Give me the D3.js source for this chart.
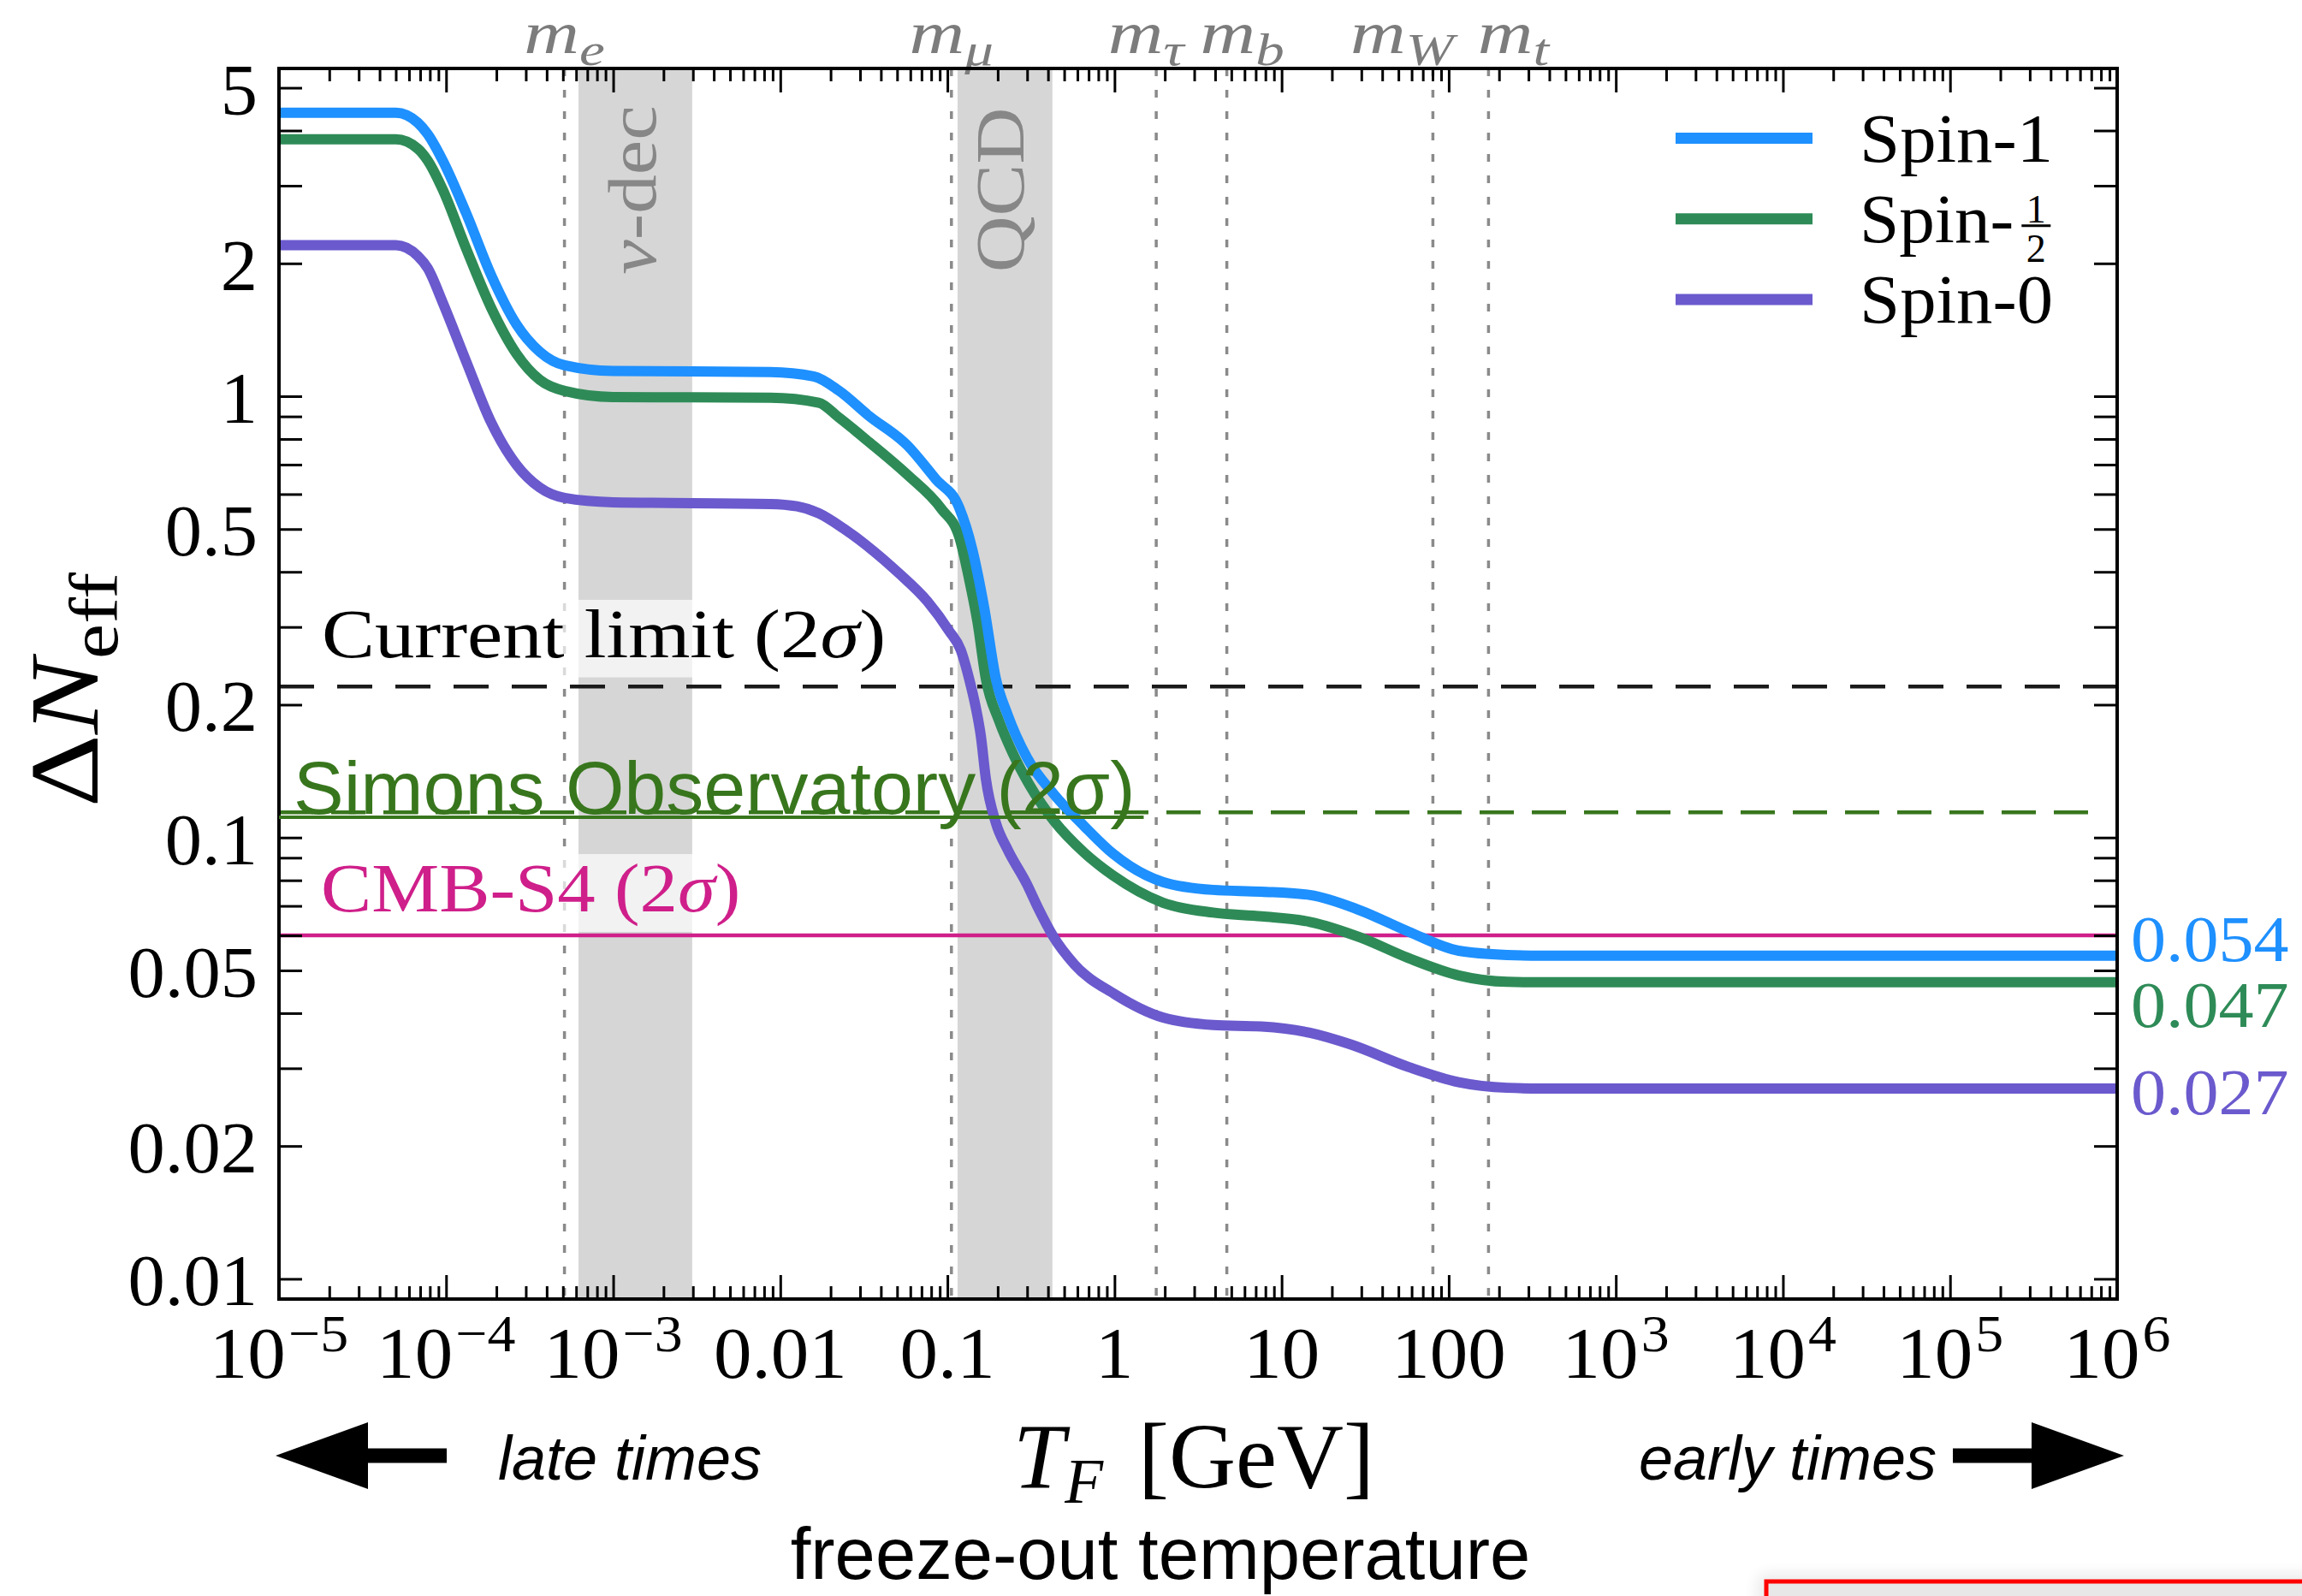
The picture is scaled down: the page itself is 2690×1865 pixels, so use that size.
<!DOCTYPE html>
<html>
<head>
<meta charset="utf-8">
<script src="https://cdn.jsdelivr.net/npm/d3@7"></script>
<style>
  html, body { margin: 0; padding: 0; background: #ffffff; }
  svg { display: block; }
</style>
</head>
<body>
<svg id="chart" width="2690" height="1865"></svg>
<script>
// ---------------- data ----------------
// Freeze-out temperature T_F as log10(T/GeV), and ΔN_eff for each species
const spin1LogT = [-5.0, -4.30, -4.17, -4.11, -4.02, -3.88, -3.73, -3.58, -3.44, -3.29, -3.00, -2.06, -1.80, -1.65, -1.47, -1.24, -1.07, -0.93, -0.85, -0.78, -0.71, -0.64, -0.525, -0.36, -0.18, -0.01, 0.29, 0.59, 0.88, 1.17, 1.47, 1.76, 2.06, 2.35, 2.55, 6.0];
const spin1Val  = [4.39, 4.39, 4.17, 3.925, 3.42, 2.60, 1.88, 1.457, 1.262, 1.175, 1.141, 1.135, 1.109, 1.03, 0.903, 0.774, 0.649, 0.560, 0.448, 0.332, 0.229, 0.190, 0.152, 0.125, 0.106, 0.092, 0.0793, 0.0761, 0.0754, 0.0741, 0.0684, 0.0612, 0.0554, 0.0542, 0.054, 0.054];

const spinHalfLogT = [-5.0, -4.30, -4.17, -4.11, -4.02, -3.88, -3.73, -3.58, -3.44, -3.29, -3.00, -2.06, -1.77, -1.65, -1.47, -1.24, -1.035, -0.93, -0.87, -0.82, -0.77, -0.69, -0.61, -0.51, -0.36, -0.18, -0.01, 0.29, 0.59, 0.88, 1.17, 1.47, 1.76, 2.06, 2.35, 2.55, 6.0];
const spinHalfVal  = [3.82, 3.82, 3.64, 3.42, 2.94, 2.16, 1.585, 1.25, 1.09, 1.028, 0.996, 0.992, 0.967, 0.895, 0.788, 0.664, 0.555, 0.481, 0.385, 0.308, 0.229, 0.1835, 0.1556, 0.1318, 0.1088, 0.0923, 0.0821, 0.0712, 0.0676, 0.0663, 0.0644, 0.0594, 0.0533, 0.0487, 0.0471, 0.047, 0.047];

const spin0LogT = [-5.0, -4.30, -4.17, -4.11, -4.02, -3.88, -3.73, -3.58, -3.44, -3.29, -3.00, -2.06, -1.90, -1.77, -1.62, -1.29, -1.12, -0.99, -0.92, -0.87, -0.83, -0.80, -0.77, -0.71, -0.64, -0.525, -0.46, -0.37, -0.24, 0.0, 0.29, 0.59, 0.88, 1.17, 1.41, 1.76, 2.06, 2.35, 2.55, 6.0];
const spin0Val  = [2.20, 2.20, 2.08, 1.95, 1.63, 1.20, 0.872, 0.700, 0.621, 0.588, 0.575, 0.570, 0.563, 0.543, 0.501, 0.397, 0.343, 0.294, 0.266, 0.229, 0.197, 0.170, 0.136, 0.108, 0.094, 0.0785, 0.0696, 0.060, 0.0516, 0.0442, 0.0391, 0.0376, 0.0373, 0.0361, 0.0340, 0.0302, 0.0279, 0.0271, 0.027, 0.027];

const seriesNames  = ["Spin-1", "Spin-½", "Spin-0"];
const seriesColors = ["#1e90ff", "#2e8b57", "#6a5acd"];
const endValues    = [0.054, 0.047, 0.027];
const endLabels    = ["0.054", "0.047", "0.027"];

// Experimental sensitivities (ΔN_eff at 2σ)
const currentLimit = 0.22;
const simonsLimit  = 0.114;
const cmbS4Limit   = 0.06;

// Particle mass thresholds [GeV]
const massNames  = ["e", "μ", "τ", "b", "W", "t"];
const massValues = [5.11e-4, 0.1057, 1.777, 4.7, 80.4, 173];

// Shaded epochs [GeV]
const bandNames  = ["ν-dec", "QCD"];
const bandLo     = [6.2e-4, 0.115];
const bandHi     = [2.97e-3, 0.425];

// Axis ticks
const yTickValues = [0.01, 0.02, 0.05, 0.1, 0.2, 0.5, 1, 2, 5];
const yTickLabels = ["0.01", "0.02", "0.05", "0.1", "0.2", "0.5", "1", "2", "5"];
const xTickValues = [1e-5, 1e-4, 1e-3, 1e-2, 1e-1, 1, 10, 100, 1e3, 1e4, 1e5, 1e6];
const xTickBase   = ["10", "10", "10", "0.01", "0.1", "1", "10", "100", "10", "10", "10", "10"];
const xTickExp    = ["−5", "−4", "−3", "", "", "", "", "", "3", "4", "5", "6"];

// ---------------- layout / style ----------------
const SERIF = "'Liberation Serif', 'Times New Roman', serif";
const SANS  = "'Liberation Sans', Arial, Helvetica, sans-serif";
const massLabelShift = [0, 0, -12, 18, -36, 29];
const endLabelDy     = [6, 52, 30];

const svg = d3.select("#chart");
const defs = svg.append("defs");
defs.append("filter").attr("id", "soft").attr("x", "-20%").attr("y", "-50%").attr("width", "140%").attr("height", "200%")
  .append("feGaussianBlur").attr("stdDeviation", 8);

const x = d3.scaleLog().domain([1e-5, 1e6]).range([326, 2474]);
const y = d3.scaleLog().domain([0.009, 5.53]).range([1518, 80]);
const [x0, x1] = x.range();
const [yB, yT] = y.range();

// Rich text: a <g> with translate/rotate/horizontal stretch, holding one <text> made of tspans
function richText(parent, o, parts) {
  const g = parent.append("g").attr("transform",
    `translate(${o.x},${o.y})` + (o.rotate ? ` rotate(${o.rotate})` : "") + ` scale(${o.stretch || 1},1)`);
  const t = g.append("text")
    .attr("text-anchor", o.anchor || "start")
    .attr("font-family", o.family || SERIF)
    .attr("font-size", o.size)
    .attr("fill", o.fill || "#000");
  if (o.style) t.attr("font-style", o.style);
  let shift = 0;
  parts.forEach(p => {
    const ts = t.append("tspan").text(p.t);
    const target = p.sub ? o.size * (p.drop || 0.24) : (p.sup ? -o.size * 0.37 : 0);
    if (target - shift !== 0) ts.attr("dy", target - shift);
    shift = target;
    if (p.sub || p.sup) ts.attr("font-size", o.size * (p.scale || 0.68));
    if (p.it) ts.attr("font-style", "italic");
    if (p.dx) ts.attr("dx", p.dx);
  });
  return { g, t };
}

// ---------------- shaded bands ----------------
const bandG = svg.append("g");
bandNames.forEach((name, i) => {
  bandG.append("rect")
    .attr("x", x(bandLo[i])).attr("y", yT)
    .attr("width", x(bandHi[i]) - x(bandLo[i])).attr("height", yB - yT)
    .attr("fill", "#d6d6d6");
});

// ---------------- mass threshold lines ----------------
const massG = svg.append("g");
massValues.forEach((m, i) => {
  massG.append("line")
    .attr("x1", x(m)).attr("x2", x(m)).attr("y1", yT).attr("y2", yB)
    .attr("stroke", "#8a8a8a").attr("stroke-width", 3.5)
    .attr("stroke-dasharray", "9,16");
  richText(svg, { x: x(m) + massLabelShift[i], y: 62, anchor: "middle", size: 70, fill: "#7c7c7c", stretch: 1.28 },
    [{ t: "m", it: true }, { t: massNames[i], it: true, sub: true, scale: 0.75, drop: 0.2 }]);
});

// Band labels, rotated
bandNames.forEach((name, i) => {
  const cx = (x(bandLo[i]) + x(bandHi[i])) / 2;
  const parts = name === "ν-dec"
    ? [{ t: "ν", it: true }, { t: "-dec" }]
    : [{ t: "QCD" }];
  richText(svg, { x: cx + (i === 0 ? 24 : 22), y: 222, rotate: -90, anchor: "middle", size: 80, fill: "#878787", stretch: 1.14 }, parts);
});

// ---------------- sensitivity lines ----------------
const limG = svg.append("g");
limG.append("line")
  .attr("x1", x0).attr("x2", x1).attr("y1", y(currentLimit)).attr("y2", y(currentLimit))
  .attr("stroke", "#1a1a1a").attr("stroke-width", 4.5).attr("stroke-dasharray", "41,27");
limG.append("line")
  .attr("x1", x0).attr("x2", x1 - 16).attr("y1", y(simonsLimit)).attr("y2", y(simonsLimit))
  .attr("stroke", "#38761d").attr("stroke-width", 4.5).attr("stroke-dasharray", "40,21");
limG.append("line")
  .attr("x1", x0).attr("x2", x1).attr("y1", y(cmbS4Limit)).attr("y2", y(cmbS4Limit))
  .attr("stroke", "#cf1f8a").attr("stroke-width", 4.5);

// Labels with translucent white boxes
function boxedLabel(o, parts) {
  const r = richText(svg, o, parts);
  const bb = r.t.node().getBBox();
  r.g.insert("rect", "text")
    .attr("x", bb.x - 16).attr("y", bb.y + 4)
    .attr("width", bb.width + 32).attr("height", bb.height + 2)
    .attr("fill", "#ffffff").attr("opacity", 0.68);
  return r;
}
boxedLabel({ x: 376, y: 768, size: 80, fill: "#000", stretch: 1.16 },
  [{ t: "Current limit (2" }, { t: "σ", it: true }, { t: ")" }]);
boxedLabel({ x: 375, y: 1065, size: 80, fill: "#cf1f8a", stretch: 1.11 },
  [{ t: "CMB-S4 (2" }, { t: "σ", it: true }, { t: ")" }]);

// ---------------- curves ----------------
const line = d3.line()
  .x(d => x(d.T)).y(d => y(d.v))
  .curve(d3.curveMonotoneX);

const series = [
  { logT: spin1LogT, val: spin1Val },
  { logT: spinHalfLogT, val: spinHalfVal },
  { logT: spin0LogT, val: spin0Val }
].map((s, i) => ({
  name: seriesNames[i], color: seriesColors[i],
  points: s.logT.map((lt, j) => ({ T: Math.pow(10, lt), v: s.val[j] }))
}));

const curveG = svg.append("g");
series.slice().reverse().forEach(s => {
  curveG.append("path")
    .attr("d", line(s.points))
    .attr("fill", "none")
    .attr("stroke", s.color)
    .attr("stroke-width", 12)
    .attr("stroke-linejoin", "round");
});

// End-value annotations beside the right axis
series.forEach((s, i) => {
  richText(svg, { x: x1 + 16, y: y(endValues[i]) + endLabelDy[i], size: 76, fill: s.color, stretch: 1.08 },
    [{ t: endLabels[i] }]);
});

// ---------------- axes ----------------
const xMinor = [];
for (let n = -5; n < 6; n++) for (let k = 2; k <= 9; k++) xMinor.push(k * Math.pow(10, n));
const yAll = [];
for (let n = -2; n <= 0; n++) for (let k = 1; k <= 9; k++) {
  const v = k * Math.pow(10, n);
  if (v >= y.domain()[0] && v <= y.domain()[1]) yAll.push(v);
}

const axG = svg.append("g");
function styleAxis(sel) {
  sel.select(".domain").remove();
  sel.selectAll(".tick line").attr("stroke", "#000").attr("stroke-width", 3);
  sel.selectAll(".tick text").remove();
}
axG.append("g").attr("transform", `translate(0,${yB})`)
  .call(d3.axisBottom(x).tickValues(xTickValues).tickSize(-28).tickSizeOuter(0).tickFormat("")).call(styleAxis);
axG.append("g").attr("transform", `translate(0,${yB})`)
  .call(d3.axisBottom(x).tickValues(xMinor).tickSize(-15).tickSizeOuter(0).tickFormat("")).call(styleAxis);
axG.append("g").attr("transform", `translate(0,${yT})`)
  .call(d3.axisTop(x).tickValues(xTickValues).tickSize(-28).tickSizeOuter(0).tickFormat("")).call(styleAxis);
axG.append("g").attr("transform", `translate(0,${yT})`)
  .call(d3.axisTop(x).tickValues(xMinor).tickSize(-15).tickSizeOuter(0).tickFormat("")).call(styleAxis);
axG.append("g").attr("transform", `translate(${x0},0)`)
  .call(d3.axisLeft(y).tickValues(yAll).tickSize(-27).tickSizeOuter(0).tickFormat("")).call(styleAxis);
axG.append("g").attr("transform", `translate(${x1},0)`)
  .call(d3.axisRight(y).tickValues(yAll).tickSize(-27).tickSizeOuter(0).tickFormat("")).call(styleAxis);

svg.append("rect")
  .attr("x", x0).attr("y", yT).attr("width", x1 - x0).attr("height", yB - yT)
  .attr("fill", "none").attr("stroke", "#000").attr("stroke-width", 4);

// Tick labels
yTickValues.forEach((v, i) => {
  richText(svg, { x: x0 - 25, y: y(v) + 31, anchor: "end", size: 84, stretch: 1.03 }, [{ t: yTickLabels[i] }]);
});
xTickValues.forEach((v, i) => {
  const parts = [{ t: xTickBase[i] }];
  if (xTickExp[i]) parts.push({ t: xTickExp[i], sup: true, scale: 0.74, dx: 3 });
  richText(svg, { x: x(v), y: 1610, anchor: "middle", size: 84, stretch: 1.06 }, parts);
});

// Axis titles
richText(svg, { x: 114, y: 806, rotate: -90, anchor: "middle", size: 114, stretch: 1.16 },
  [{ t: "Δ" }, { t: "N", it: true }, { t: "eff", sub: true, scale: 0.7, drop: 0.2 }]);
richText(svg, { x: 1395, y: 1738, anchor: "middle", size: 108, stretch: 1.0 },
  [{ t: "T", it: true }, { t: "F", it: true, sub: true, scale: 0.68, drop: 0.17 }, { t: " [GeV]", dx: 14 }]);

// ---------------- legend ----------------
const legG = svg.append("g");
series.forEach((s, i) => {
  const ly = 161.5 + i * 94.3;
  legG.append("line")
    .attr("x1", 1958).attr("x2", 2118).attr("y1", ly).attr("y2", ly)
    .attr("stroke", s.color).attr("stroke-width", 13);
  if (i === 1) {
    const r = richText(legG, { x: 2173, y: ly + 27, size: 80, stretch: 1.04 }, [{ t: "Spin-" }]);
    const w = r.t.node().getComputedTextLength() * 1.04;
    const fx = 2173 + w + 26;
    // stacked fraction 1/2 as a single text element
    const frac = legG.append("text")
      .attr("text-anchor", "middle")
      .attr("font-family", SERIF).attr("font-size", 46);
    frac.append("tspan").attr("x", fx).attr("y", ly + 4).text("1");
    frac.append("tspan").attr("x", fx).attr("y", ly + 50).text("2");
    legG.append("line").attr("x1", fx - 17).attr("x2", fx + 17).attr("y1", ly + 8).attr("y2", ly + 8)
      .attr("stroke", "#000").attr("stroke-width", 3);
  } else {
    richText(legG, { x: 2173, y: ly + 27, size: 80, stretch: 1.06 }, [{ t: s.name }]);
  }
});

// ---------------- Simons Observatory overlay ----------------
const so = svg.append("text")
  .attr("x", 343).attr("y", 951)
  .attr("font-family", SANS).attr("font-size", 88)
  .attr("fill", "#38761d")
  .text("Simons Observatory (2σ)");
const soW = so.node().getComputedTextLength();
svg.append("line")
  .attr("x1", x0).attr("x2", 343 + soW + 10)
  .attr("y1", 955).attr("y2", 955)
  .attr("stroke", "#38761d").attr("stroke-width", 4);

// ---------------- time-direction arrows & caption ----------------
const arrowY = 1701;
function arrow(tipX, dir) {
  const headLen = 108, headHalf = 39, shaftLen = 92, shaftHalf = 8.5;
  const b = tipX + dir * headLen, e = b + dir * shaftLen;
  const pts = [[tipX, arrowY], [b, arrowY - headHalf], [b, arrowY - shaftHalf], [e, arrowY - shaftHalf],
               [e, arrowY + shaftHalf], [b, arrowY + shaftHalf], [b, arrowY + headHalf]];
  svg.append("path").attr("d", d3.line()(pts) + "Z").attr("fill", "#000");
}
arrow(x0 - 4, 1);
arrow(x1 + 8, -1);
svg.append("text").attr("x", 582).attr("y", 1729)
  .attr("font-family", SANS).attr("font-style", "italic").attr("font-size", 72)
  .text("late times");
svg.append("text").attr("x", 2263).attr("y", 1729).attr("text-anchor", "end")
  .attr("font-family", SANS).attr("font-style", "italic").attr("font-size", 72)
  .text("early times");
svg.append("text").attr("x", 1356).attr("y", 1845).attr("text-anchor", "middle")
  .attr("font-family", SANS).attr("font-size", 85)
  .text("freeze-out temperature");

// ---------------- framed panel peeking in at the lower right ----------------
svg.append("rect").attr("x", 2052).attr("y", 1838).attr("width", 720).attr("height", 120)
  .attr("rx", 14).attr("fill", "#000").attr("opacity", 0.07).attr("filter", "url(#soft)");
svg.append("rect").attr("x", 2064).attr("y", 1848).attr("width", 700).attr("height", 100)
  .attr("fill", "#e8e8e8").attr("stroke", "#ff0000").attr("stroke-width", 5);
</script>
</body>
</html>
